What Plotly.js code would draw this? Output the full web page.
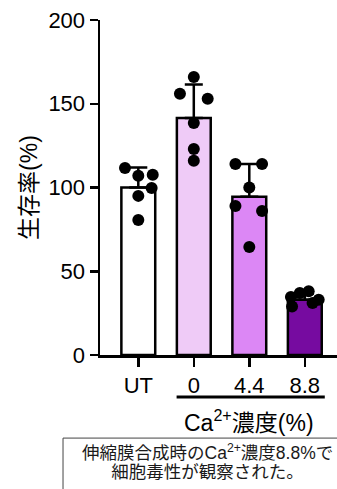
<!DOCTYPE html>
<html>
<head>
<meta charset="utf-8">
<script src="https://cdn.plot.ly/plotly-3.0.1.min.js"></script>
<style>
html,body{margin:0;padding:0;background:#fff;}
#chart{width:337px;height:489px;}
</style>
</head>
<body>
<div id="chart"></div>
<script>
// ---- data ----
var categories = ["UT", "0", "4.4", "8.8"];
var meanValues = [100, 141.5, 94.5, 33];
var sdValues = [12, 20, 19.5, 3.5];
var pointsUT = [111.6, 107, 107.6, 99.7, 95, 80.6];
var points0 = [166, 156, 153, 138.5, 123, 116];
var points44 = [114, 114, 100, 89, 86, 64.5];
var points88 = [34.6, 37, 38, 33, 31, 29];
// horizontal spread of the dots within each bar (category units)
var offsetsUT = [-0.24, 0, 0.26, 0.24, 0, 0];
var offsets0 = [0, -0.25, 0.25, 0, 0, 0];
var offsets44 = [-0.25, 0.23, 0, -0.25, 0.23, 0];
var offsets88 = [-0.25, -0.09, 0.07, 0.25, 0.14, -0.23];
var barColors = ["#ffffff", "#efcbf7", "#dc87f5", "#760ba0"];
var yTicks = [0, 50, 100, 150, 200];
var yTitle = "生存率(%)";
var groupLabel = "Ca<sup>2+</sup>濃度(%)";
var noteLine1 = "伸縮膜合成時のCa<sup>2+</sup>濃度8.8%で";
var noteLine2 = "細胞毒性が観察された。";

var latin = "Liberation Sans, Arial, Noto Sans CJK JP, sans-serif";
var cjk = "Noto Sans CJK JP, Liberation Sans, sans-serif";

var idx = categories.map(function (c, i) { return i; });

var allPoints = [pointsUT, points0, points44, points88];
var allOffsets = [offsetsUT, offsets0, offsets44, offsets88];
var px = [], py = [];
allPoints.forEach(function (arr, i) {
  arr.forEach(function (v, j) {
    px.push(i + allOffsets[i][j]);
    py.push(v);
  });
});

var barTrace = {
  type: "bar",
  x: idx,
  y: meanValues,
  width: 0.61,
  marker: { color: barColors, line: { color: "#000", width: 2.5 } },
  error_y: {
    type: "data", symmetric: false, array: sdValues,
    arrayminus: sdValues.map(function () { return 0; }),
    color: "#000", thickness: 2.5, width: 9
  },
  hoverinfo: "skip"
};

var dotTrace = {
  type: "scatter",
  mode: "markers",
  x: px,
  y: py,
  marker: { color: "#000", size: 12 },
  cliponaxis: false,
  hoverinfo: "skip"
};

var noteText = '<span style="font-size:17.5px">' + noteLine1 + '</span><br>' +
               '<span style="font-size:17.5px">' + noteLine2 + '</span>';

var layout = {
  width: 337,
  height: 489,
  margin: { l: 100, r: 0, t: 20, b: 134 },
  paper_bgcolor: "#fff",
  plot_bgcolor: "#fff",
  showlegend: false,
  font: { family: latin, color: "#000" },
  xaxis: {
    range: [-0.69, 3.58],
    tickvals: idx,
    ticktext: categories,
    ticks: "outside", ticklen: 9, tickwidth: 2.5, tickcolor: "#000",
    showline: true, linecolor: "#000", linewidth: 2.5,
    showgrid: false, zeroline: false,
    tickfont: { size: 22, family: latin, color: "#000" },
    fixedrange: true
  },
  yaxis: {
    range: [0, 200],
    tickvals: yTicks,
    ticks: "outside", ticklen: 8, tickwidth: 2.5, tickcolor: "#000",
    showline: true, linecolor: "#000", linewidth: 2.5,
    showgrid: false, zeroline: false,
    tickfont: { size: 22, family: latin, color: "#000" },
    title: { text: yTitle, font: { size: 23, family: latin, color: "#000" }, standoff: 5 },
    fixedrange: true
  },
  shapes: [
    { type: "line", xref: "x", yref: "paper", x0: 0.69, x1: 3.36, y0: -0.125, y1: -0.125,
      line: { color: "#000", width: 3 } },
    { type: "rect", xref: "paper", yref: "paper", x0: -0.156, x1: 1.3, y0: -0.248, y1: -0.6,
      line: { color: "#444", width: 1 } }
  ],
  annotations: [
    { xref: "x", yref: "paper", x: 2, y: -0.197, text: groupLabel, showarrow: false,
      xanchor: "center", yanchor: "middle", font: { size: 23, family: latin, color: "#000" } },
    { xref: "paper", yref: "paper", x: 0.455, y: -0.319, text: noteText, showarrow: false,
      xanchor: "center", yanchor: "middle", align: "center",
      font: { size: 14.5, family: latin, color: "#1a1a1a" } }
  ]
};

Plotly.newPlot("chart", [barTrace, dotTrace], layout, { staticPlot: true, displayModeBar: false });
</script>
</body>
</html>
